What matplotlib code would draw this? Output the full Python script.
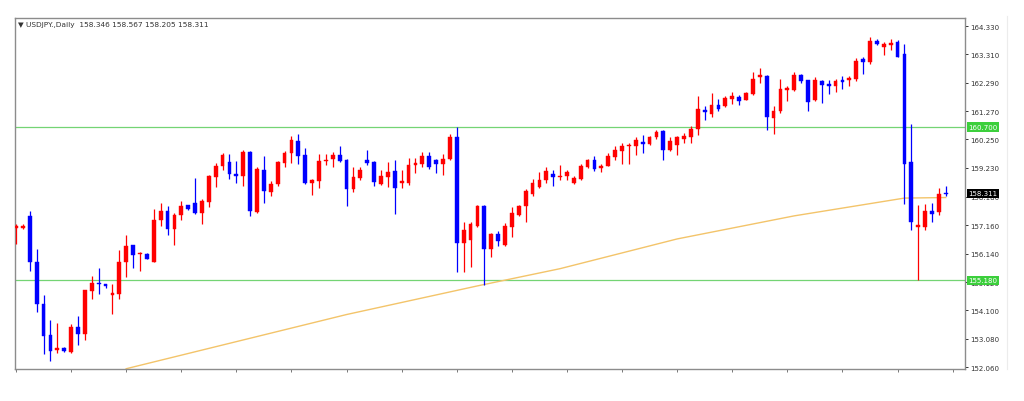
import matplotlib
matplotlib.use("Agg")
import matplotlib.pyplot as plt
from matplotlib.lines import Line2D
import matplotlib.transforms as mtransforms

# ---- data ----
opens = [157.05,157.08,157.49,155.84,154.34,153.20,152.66,152.75,152.60,153.50,
         153.26,154.80,155.09,155.04,154.64,154.70,155.84,156.44,156.12,156.14,
         155.84,157.34,157.66,157.04,157.52,157.88,157.97,157.61,158.00,158.90,
         159.29,159.44,159.02,158.93,159.80,157.64,159.16,158.36,158.66,159.40,
         159.76,160.20,159.68,158.69,158.76,159.46,159.56,159.68,159.52,158.45,
         158.88,159.52,159.44,158.66,158.90,159.12,158.69,158.69,159.32,159.38,
         159.64,159.52,159.38,159.56,160.34,156.53,156.62,157.13,157.85,156.32,
         156.86,156.46,157.10,157.54,157.84,158.30,158.54,158.78,159.02,158.89,
         158.95,158.68,158.83,159.26,159.52,159.22,159.31,159.62,159.82,160.00,
         160.00,160.15,160.10,160.34,160.54,159.86,160.06,160.27,160.34,160.63,
         161.32,161.18,161.50,161.44,161.71,161.78,161.68,161.90,162.50,162.54,
         161.02,161.26,162.02,162.04,162.58,162.38,161.66,162.34,162.26,162.16,
         162.38,162.38,162.42,163.16,163.04,163.80,163.56,163.66,163.76,163.34,
         159.44,157.10,157.10,157.68,157.64,158.346]
highs = [157.20,157.22,157.67,156.29,154.64,153.74,153.66,152.78,153.62,153.89,
         154.85,155.33,155.64,155.06,155.06,156.26,156.80,156.46,156.20,156.16,
         157.73,157.96,157.85,157.60,158.04,157.90,158.88,158.12,158.96,159.41,
         159.76,159.74,159.48,159.88,159.82,159.26,159.64,158.76,159.48,159.84,
         160.36,160.44,159.96,158.84,159.74,159.74,159.80,160.00,159.56,159.26,
         159.26,159.86,159.48,159.14,159.44,159.50,159.14,159.60,159.60,159.80,
         159.80,159.56,159.74,160.44,160.68,157.28,157.28,157.88,157.88,156.89,
         156.94,157.24,157.82,157.90,158.47,158.83,159.07,159.26,159.16,159.34,
         159.16,158.95,159.38,159.55,159.64,159.38,159.76,160.00,160.12,160.12,
         160.34,160.42,160.38,160.58,160.60,160.34,160.39,160.48,160.75,161.80,
         161.44,161.92,161.70,161.80,161.95,161.86,161.95,162.66,162.82,162.58,
         161.44,162.42,162.18,162.66,162.62,162.40,162.50,162.40,162.40,162.42,
         162.52,162.52,163.18,163.22,163.94,163.88,163.76,163.88,163.84,163.70,
         160.82,157.88,157.94,157.98,158.52,158.567]
lows = [156.50,157.04,155.51,154.04,152.54,152.27,152.58,152.60,152.58,152.84,
        153.05,154.52,154.68,154.92,153.98,154.52,155.30,155.64,155.52,155.94,
        155.84,157.13,156.80,156.44,157.34,157.70,157.58,157.22,157.82,158.54,
        159.14,158.81,158.69,158.57,157.49,157.61,157.98,158.21,158.57,159.26,
        159.40,159.38,158.64,158.24,158.52,159.32,159.26,159.44,157.85,158.36,
        158.80,159.32,158.57,158.60,158.54,157.56,158.52,158.60,159.04,159.26,
        159.20,159.04,158.96,159.52,155.48,155.48,155.66,157.10,155.00,156.02,
        156.40,156.40,156.74,157.51,157.27,158.23,158.50,158.68,158.59,158.80,
        158.80,158.66,158.78,159.22,159.10,159.07,159.28,159.52,159.38,159.38,
        159.70,159.78,160.06,160.26,159.52,159.82,159.70,160.12,160.12,160.42,
        160.96,161.06,161.26,161.42,161.54,161.50,161.66,161.86,162.28,160.60,
        160.46,161.20,161.62,161.98,162.28,161.26,161.62,161.56,161.90,161.94,
        162.06,162.18,162.34,162.60,162.98,163.64,163.28,163.46,163.20,157.92,
        156.98,155.18,156.98,157.28,157.52,158.205]
closes = [157.12,157.15,155.84,154.32,153.18,152.64,152.76,152.64,153.50,153.26,
          154.82,155.09,155.04,154.97,154.72,155.84,156.41,156.08,156.17,155.96,
          157.34,157.66,157.04,157.52,157.85,157.73,157.61,158.04,158.93,159.29,
          159.70,159.00,158.95,159.80,157.68,159.20,158.40,158.66,159.44,159.76,
          160.22,159.64,158.69,158.78,159.48,159.52,159.68,159.48,158.48,158.90,
          159.16,159.40,158.72,158.92,159.08,158.52,158.76,159.32,159.40,159.64,
          159.26,159.38,159.56,160.34,156.53,156.98,157.22,157.85,156.32,156.86,
          156.58,157.15,157.60,157.87,158.38,158.68,158.80,159.10,158.90,158.95,
          159.07,158.86,159.28,159.50,159.19,159.31,159.67,159.88,160.03,160.06,
          160.22,160.10,160.34,160.50,159.86,160.18,160.34,160.39,160.63,161.35,
          161.23,161.50,161.35,161.74,161.80,161.62,161.92,162.42,162.58,161.06,
          161.26,162.06,162.10,162.58,162.34,161.59,162.40,162.22,162.16,162.34,
          162.33,162.46,163.06,163.04,163.80,163.70,163.70,163.72,163.22,159.38,
          157.28,157.18,157.68,157.58,158.30,158.311]

# moving average (read at selected bars)
ma_idx = [17, 49, 68, 80, 97, 114, 122, 130, 133, 136]
ma_val = [152.00, 153.95, 154.98, 155.60, 156.67, 157.50, 157.82, 158.14, 158.15, 158.16]

levels = [160.70, 155.18]
level_labels = ["160.700", "155.180"]
last_price = 158.311
last_label = "158.311"

yticks = [164.33, 163.31, 162.29, 161.27, 160.25, 159.23, 158.18, 157.16,
          156.14, 155.12, 154.10, 153.08, 152.06]
ytick_labels = ["164.330", "163.310", "162.290", "161.270", "160.250", "159.230",
                "158.180", "157.160", "156.140", "155.120", "154.100", "153.080",
                "152.060"]
header = "\u25BC USDJPY.,Daily  158.346 158.567 158.205 158.311"

# ---- figure ----
W, H = 1024, 402
fig = plt.figure(figsize=(W / 100, H / 100), dpi=100)
fig.patch.set_facecolor("white")
ax = fig.add_axes([15 / W, 1 - 370 / H, 950 / W, 351 / H])

UP = "#ff0000"
DOWN = "#0000ff"
n = len(opens)
xs = list(range(1, n + 1))
for x, o, h, l, c in zip(xs, opens, highs, lows, closes):
    col = UP if c >= o else DOWN
    ax.vlines(x, l, h, color=col, lw=0.9, zorder=3)
    lo = min(o, c)
    hgt = max(abs(c - o), 0.035)
    ax.bar(x, hgt, bottom=lo - (0.0175 if abs(c - o) < 0.035 else 0), width=0.55,
           color=col, edgecolor=col, lw=0.3, zorder=4)

ax.plot(ma_idx, ma_val, color="#f3c46a", lw=1.0, zorder=2)

for lv in levels:
    ax.axhline(lv, color="#74d474", lw=0.9, zorder=1)

ax.set_xlim(0.855, 138.8)
ax.set_ylim(151.99, 164.62)

ax.yaxis.tick_right()
ax.set_yticks(yticks)
ax.set_yticklabels(ytick_labels)
ax.tick_params(axis="y", direction="out", length=2.5, width=0.7, colors="#333333",
               labelsize=5.0, pad=1.5)
ax.set_xticks(list(range(1, 139, 8)))
ax.set_xticklabels([])
ax.tick_params(axis="x", direction="out", length=2, width=0.7, colors="#777777")

for s in ax.spines.values():
    s.set_color("#8c8c8c")
    s.set_linewidth(1.0)

trans = mtransforms.blended_transform_factory(ax.transAxes, ax.transData)
for lv, lab in zip(levels, level_labels):
    ax.text(1.0035, lv, lab, transform=trans, ha="left", va="center", fontsize=5.0,
            color="white", zorder=10, clip_on=False,
            bbox=dict(boxstyle="square,pad=0.25", fc="#3ccf3c", ec="none"))
ax.text(1.0035, last_price, last_label, transform=trans, ha="left", va="center",
        fontsize=5.0, color="white", zorder=10, clip_on=False,
        bbox=dict(boxstyle="square,pad=0.25", fc="black", ec="none"))

ax.text(0.0035, 0.982, header, transform=ax.transAxes, ha="left", va="center",
        fontsize=5.3, color="#333333", zorder=10)

fig.add_artist(Line2D([1007 / W, 1007 / W], [1 - 17 / H, 1 - 370 / H],
                      color="#ececec", lw=0.8))

fig.savefig("out.png", dpi=100, facecolor="white")
